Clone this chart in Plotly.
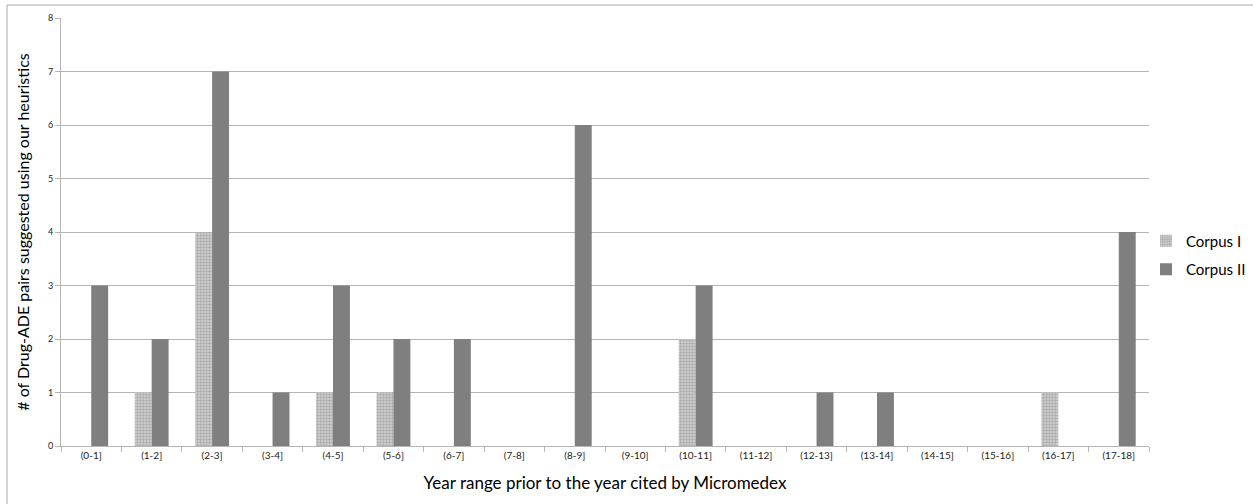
import plotly.graph_objects as go

categories = ["(0-1]", "(1-2]", "(2-3]", "(3-4]", "(4-5]", "(5-6]", "(6-7]", "(7-8]", "(8-9]",
              "(9-10]", "(10-11]", "(11-12]", "(12-13]", "(13-14]", "(14-15]", "(15-16]", "(16-17]", "(17-18]"]
corpus_1 = [0, 1, 4, 0, 1, 1, 0, 0, 0, 0, 2, 0, 0, 0, 0, 0, 1, 0]
corpus_2 = [3, 2, 7, 1, 3, 2, 2, 0, 6, 0, 3, 0, 1, 1, 0, 0, 0, 4]
y_ticks = [0, 1, 2, 3, 4, 5, 6, 7, 8]

FONT = "Lato"

fig = go.Figure()
fig.add_trace(go.Bar(
    name="Corpus I", x=categories, y=corpus_1, legendgroup="c1",
    marker=dict(color="#d4d4d4", line=dict(width=0),
                pattern=dict(shape=".", fgcolor="#808080", bgcolor="#d4d4d4", size=3, solidity=0.5)),
))
fig.add_trace(go.Bar(
    name="Corpus II", x=categories, y=corpus_2, legendgroup="c2",
    marker=dict(color="#7f7f7f", line=dict(width=0)),
))

L, R, T, B = 61, 104, 18, 58
W, H = 1253, 504
pw, ph = W - L - R, H - T - B

fig.update_layout(
    width=W, height=H,
    margin=dict(l=L, r=R, t=T, b=B, autoexpand=False),
    barmode="group", bargap=0.44, bargroupgap=0,
    plot_bgcolor="white", paper_bgcolor="white",
    font=dict(family=FONT, color="#000000"),
    legend=dict(x=(1146 - L) / pw, y=(H - B - 255) / ph, xanchor="left", yanchor="middle",
                font=dict(size=15, family=FONT), tracegroupgap=6, itemwidth=30,
                bgcolor="rgba(0,0,0,0)"),
    xaxis=dict(
        type="category", tickfont=dict(size=10, family=FONT, color="#222"), automargin=False,
        showline=True, linecolor="#b5b5b5", linewidth=1,
        ticks="outside", tickson="boundaries", ticklen=5, tickcolor="#b5b5b5",
        showgrid=False,
        title=dict(text="Year range prior to the year cited by Micromedex",
                   font=dict(size=17, family=FONT), standoff=17),
    ),
    yaxis=dict(
        range=[0, 8], tickvals=y_ticks, tickfont=dict(size=9, family=FONT, color="#222"), automargin=False,
        showline=True, linecolor="#b5b5b5", linewidth=1,
        ticks="outside", ticklen=5, tickcolor="#b5b5b5",
        showgrid=True, gridcolor="#b5b5b5", gridwidth=1, zeroline=False,
        title=dict(text="# of Drug-ADE pairs suggested using our heuristics",
                   font=dict(size=16, family=FONT), standoff=14),
    ),
)

# outer chart border (left and top edges)
bx = (7 - L) / pw
by = 1 + (T - 5) / ph
fig.add_shape(type="line", xref="paper", yref="paper", x0=bx, x1=bx, y0=by, y1=-0.5,
              line=dict(color="#a8a8a8", width=1))
fig.add_shape(type="line", xref="paper", yref="paper", x0=bx, x1=1.5, y0=by, y1=by,
              line=dict(color="#a8a8a8", width=1))

fig.write_html("out.html", config={"displayModeBar": False},
               post_script="document.body.style.margin='0';document.body.style.overflow='hidden';")
